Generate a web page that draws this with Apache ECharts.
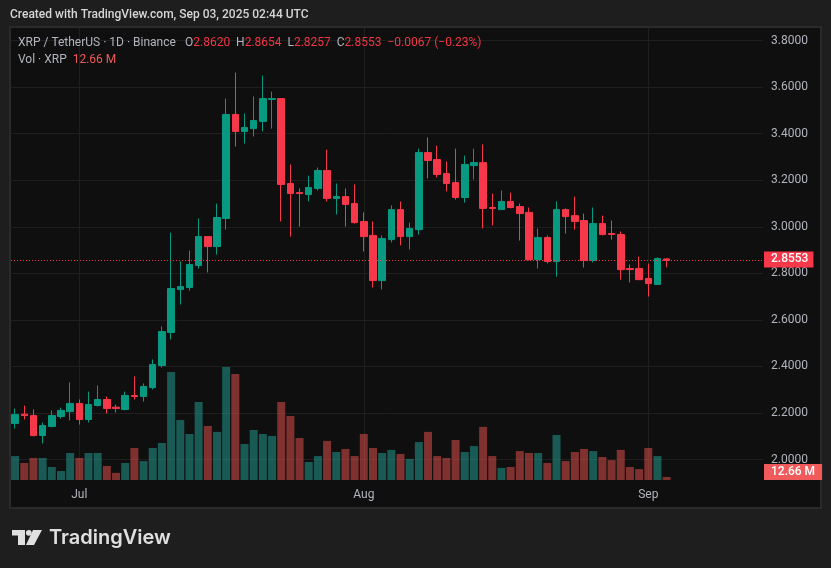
<!DOCTYPE html>
<html><head><meta charset="utf-8">
<style>html,body{margin:0;padding:0;background:#1e1e1e}#c{width:831px;height:568px}</style>
<script src="https://cdn.jsdelivr.net/npm/echarts@6/dist/echarts.min.js"></script>
</head><body><div id="c"></div>
<script>
const monthDays = [['Jun',24,30],['Jul',1,31],['Aug',1,31],['Sep',1,13]];
const monthStarts = ['Jul 1','Aug 1','Sep 1'];
const monthLabels = {'Jul 1':'Jul','Aug 1':'Aug','Sep 1':'Sep'};
const priceTicks = [3.8,3.6,3.4,3.2,3.0,2.8,2.6,2.4,2.2,2.0];
const opens  = [2.155,2.195,2.189,2.103,2.142,2.185,2.206,2.241,2.172,2.232,2.258,2.225,2.215,2.275,2.271,2.309,2.404,2.546,2.731,2.739,2.834,2.958,2.915,3.036,3.483,3.410,3.422,3.453,3.547,3.551,3.186,3.147,3.139,3.165,3.242,3.122,3.130,3.100,3.023,2.963,2.769,2.945,3.074,2.958,2.988,3.319,3.289,3.229,3.190,3.126,3.263,3.276,3.083,3.074,3.109,3.087,3.062,2.859,2.954,2.851,3.074,3.048,3.027,2.855,3.014,2.971,2.967,2.821,2.821,2.778,2.752,2.8620];
const closes = [2.193,2.189,2.103,2.146,2.189,2.211,2.241,2.172,2.236,2.258,2.219,2.219,2.275,2.271,2.314,2.408,2.550,2.735,2.743,2.838,2.958,2.915,3.040,3.483,3.410,3.427,3.457,3.551,3.551,3.182,3.143,3.143,3.169,3.242,3.122,3.130,3.096,3.018,2.958,2.769,2.950,3.074,2.958,2.993,3.319,3.285,3.225,3.186,3.126,3.268,3.276,3.079,3.079,3.109,3.083,3.057,2.859,2.954,2.851,3.074,3.044,3.023,2.855,3.014,2.967,2.967,2.816,2.816,2.773,2.756,2.864,2.8553];
const lows   = [2.133,2.172,2.099,2.069,2.138,2.176,2.168,2.150,2.159,2.228,2.198,2.202,2.211,2.258,2.249,2.301,2.395,2.516,2.666,2.726,2.821,2.804,2.881,2.988,3.345,3.358,3.388,3.410,3.422,3.023,2.958,3.001,3.109,3.156,3.109,3.053,3.001,3.014,2.894,2.739,2.731,2.933,2.920,2.902,2.967,3.208,3.212,3.152,3.117,3.104,3.203,2.993,3.006,3.074,3.079,2.941,2.855,2.821,2.842,2.786,2.971,2.988,2.825,2.847,2.963,2.945,2.773,2.761,2.773,2.700,2.752,2.8257];
const highs  = [2.219,2.232,2.215,2.159,2.211,2.223,2.331,2.258,2.292,2.318,2.271,2.236,2.292,2.357,2.327,2.430,2.572,2.975,2.851,2.898,3.036,2.958,3.100,3.551,3.663,3.487,3.560,3.650,3.581,3.551,3.268,3.165,3.220,3.255,3.332,3.186,3.165,3.182,3.062,3.023,2.963,3.092,3.109,3.018,3.336,3.384,3.349,3.281,3.336,3.306,3.336,3.354,3.143,3.156,3.147,3.100,3.083,2.993,2.963,3.109,3.079,3.130,3.057,3.083,3.048,3.027,2.980,2.838,2.872,2.842,2.868,2.8654];
const volumesM = [101,72,93,93,55,38,114,93,114,114,59,30,72,135,80,135,156,456,253,194,329,228,203,477,447,152,211,194,186,329,270,177,76,101,165,118,131,101,194,135,114,127,110,89,160,203,101,93,169,118,143,224,101,51,55,122,114,114,72,190,80,118,131,122,97,84,127,55,46,135,101,12.66];
const lastPrice = 2.8553, lastVolume = 12.66;

const UP='#089981', DOWN='#F7374A', UPV='rgba(38,166,154,0.5)', DOWNV='rgba(239,83,80,0.5)';
const TXT='#b2b5be', FONT='Roboto, sans-serif', CLEAR='rgba(0,0,0,0)';
const categories=[];
monthDays.forEach(m=>{for(let d=m[1];d<=m[2];d++)categories.push(m[0]+' '+d);});
const candles=opens.map((o,i)=>[o,closes[i],lows[i],highs[i]]);
const vols=volumesM.map((v,i)=>({value:v,itemStyle:{color:closes[i]>=opens[i]?UPV:DOWNV}}));
const isMonth=(i)=>monthStarts.includes(categories[i]);

const chart=echarts.init(document.getElementById('c'),null,{renderer:'canvas'});
chart.setOption({
 animation:false,
 backgroundColor:'#1e1e1e',
 textStyle:{fontFamily:FONT},
 grid:{left:10.5,width:752.5,top:28,height:452,containLabel:false},
 xAxis:{type:'category',data:categories,boundaryGap:true,
  axisLine:{show:false},axisTick:{show:false,alignWithLabel:true},
  splitLine:{show:true,alignWithLabel:true,interval:(i)=>isMonth(i),lineStyle:{color:'#1f1f1f',width:1}},
  axisLabel:{interval:(i)=>isMonth(i),formatter:(n)=>monthLabels[n]||'',color:TXT,fontSize:12,margin:9,fontFamily:FONT}},
 yAxis:[{type:'value',position:'right',min:1.9120,max:3.8544,scale:true,
  axisLine:{show:false},axisTick:{show:false,customValues:priceTicks},
  splitLine:{show:true,lineStyle:{color:'#1f1f1f',width:1}},
  axisLabel:{customValues:priceTicks,formatter:(v)=>v.toFixed(4),color:TXT,fontSize:12,margin:8,fontFamily:FONT}},
  {type:'value',show:false,min:0,max:1907,splitLine:{show:false}}],
 series:[
  {type:'bar',name:'Vol',yAxisIndex:1,data:vols,barWidth:8,z:2,
   markLine:{silent:true,symbol:'none',lineStyle:{color:CLEAR},
    label:{position:'end',distance:1,offset:[0,-5],formatter:lastVolume.toFixed(2)+' M',color:'#fff',fontSize:12,fontWeight:500,fontFamily:FONT,backgroundColor:'#F05A5A',padding:[2,7,2,7]},
    data:[{yAxis:lastVolume}],z:9}},
  {type:'candlestick',name:'XRP',yAxisIndex:0,data:candles,barWidth:7,z:3,
   itemStyle:{color:UP,color0:DOWN,borderColor:UP,borderColor0:DOWN,borderWidth:1},
   markLine:{silent:true,symbol:'none',lineStyle:{color:CLEAR},
    label:{position:'end',distance:1,formatter:lastPrice.toFixed(4),color:'#fff',fontSize:12,fontWeight:500,fontFamily:FONT,backgroundColor:DOWN,padding:[2,5,2,7]},
    data:[{yAxis:lastPrice}],z:9}}
 ],
 graphic:[
  {type:'rect',z:-10,silent:true,shape:{x:10,y:27,width:811,height:481},style:{fill:'#0f0f0f',stroke:'#2a2a2a',lineWidth:2}},
  {type:'text',z:100,x:10,y:9,style:{text:'Created with TradingView.com, Sep 03, 2025 02:44 UTC',fill:'#d6d6d6',font:'500 12px '+FONT}},
  {type:'text',z:100,x:18,y:37,style:{text:'XRP / TetherUS · 1D · Binance',fill:TXT,font:'12px '+FONT}},
  {type:'text',z:100,x:185,y:37,style:{
    text:'{g|O}{r|2.8620}{g|  H}{r|2.8654}{g|  L}{r|2.8257}{g|  C}{r|2.8553}{r|  −0.0067 (−0.23%)}',
    rich:{g:{fill:TXT,font:'12px '+FONT},r:{fill:'#F23645',font:'12px '+FONT}}}},
  {type:'text',z:100,x:18,y:54,style:{
    text:'{g|Vol · XRP  }{r|12.66 M}',
    rich:{g:{fill:TXT,font:'12px '+FONT},r:{fill:'#F05A5A',font:'12px '+FONT}}}},
  {type:'polygon',shape:{points:[[12,530],[25,530],[25,545],[18,545],[18,535.5],[12,535.5]]},style:{fill:'#e0e0e0'}},
  {type:'circle',shape:{cx:28.8,cy:532.8,r:2.9},style:{fill:'#e0e0e0'}},
  {type:'polygon',shape:{points:[[33,530],[42,530],[34,545],[26,545]]},style:{fill:'#e0e0e0'}},
  {type:'text',x:49,y:528,style:{text:'TradingView',fill:'#e0e0e0',font:'600 20px Inter, '+FONT}}
 ]
});
// dotted last-price line, positioned from the price scale and snapped to a pixel row
const priceY=Math.floor(chart.convertToPixel({yAxisIndex:0},lastPrice))+0.5;
chart.setOption({graphic:[{id:'priceLine',type:'line',z:50,silent:true,
  shape:{x1:11,y1:priceY,x2:763,y2:priceY},
  style:{stroke:DOWN,lineWidth:1,lineDash:[1,2]}}]});
</script></body></html>
